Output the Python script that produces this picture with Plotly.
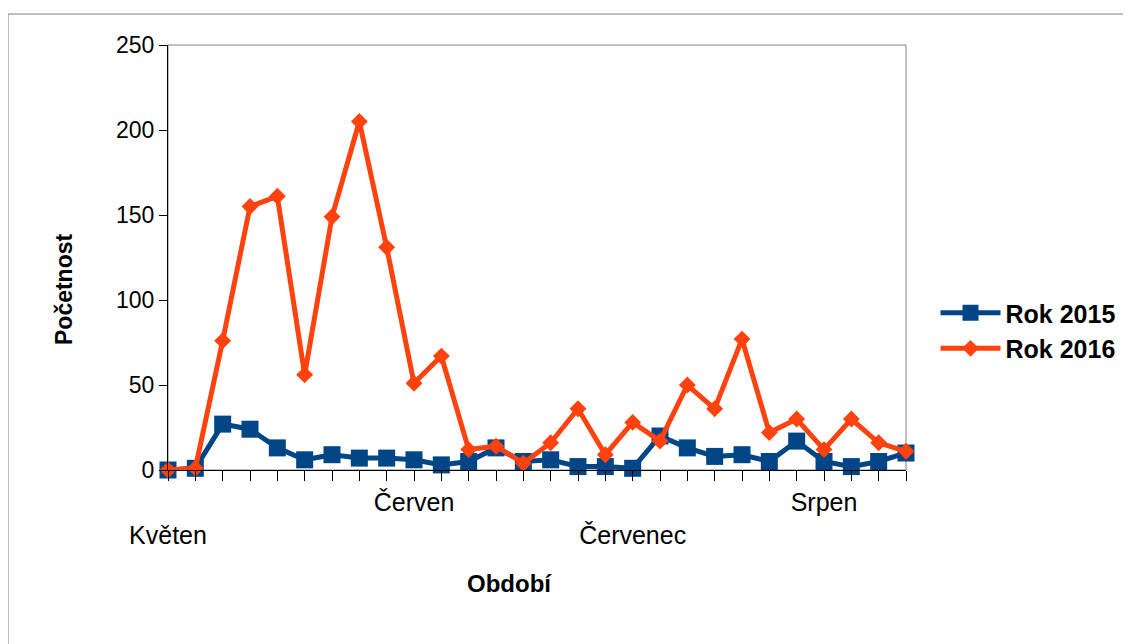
import plotly.graph_objects as go

# --- data ---
period_index = list(range(28))
month_labels = ["Květen", "", "", "", "", "", "", "", "", "Červen",
                "", "", "", "", "", "", "", "Červenec", "", "",
                "", "", "", "", "Srpen", "", "", ""]
label_row = [2, 0, 0, 0, 0, 0, 0, 0, 0, 1,
             0, 0, 0, 0, 0, 0, 0, 2, 0, 0,
             0, 0, 0, 0, 1, 0, 0, 0]
rok_2015 = [0, 1, 27, 24, 13, 6, 9, 7, 7, 6,
            3, 5, 13, 5, 6, 2, 2, 1, 20, 13,
            8, 9, 5, 17, 5, 2, 5, 10]
rok_2016 = [0, 1, 76, 155, 161, 56, 149, 205, 131, 51,
            67, 12, 14, 4, 16, 36, 9, 28, 17, 50,
            36, 77, 22, 30, 12, 30, 16, 11]
y_ticks = [0, 50, 100, 150, 200, 250]

tick_text = [("<br>" + t if r == 2 else t) for t, r in zip(month_labels, label_row)]

FONT = "Liberation Sans, Arial, sans-serif"
BLUE = "#004586"
ORANGE = "#ff420e"

fig = go.Figure()
fig.add_trace(go.Scatter(
    x=period_index, y=rok_2015, name="<b>Rok 2015</b>", mode="lines+markers",
    line=dict(color=BLUE, width=5),
    marker=dict(symbol="square", size=17, color=BLUE),
    cliponaxis=False,
))
fig.add_trace(go.Scatter(
    x=period_index, y=rok_2016, name="<b>Rok 2016</b>", mode="lines+markers",
    line=dict(color=ORANGE, width=5),
    marker=dict(symbol="diamond", size=13, color=ORANGE),
    cliponaxis=False,
))

fig.update_layout(
    width=1131, height=644,
    margin=dict(l=160, r=233, t=37, b=182),
    paper_bgcolor="white", plot_bgcolor="white",
    font=dict(family=FONT, size=23, color="black"),
    showlegend=True,
    legend=dict(x=1.04, y=0.328, xanchor="left", yanchor="middle",
                font=dict(size=25, color="black"), tracegroupgap=0,
                itemwidth=60, bgcolor="rgba(0,0,0,0)"),
    xaxis=dict(
        range=[0, 27], tickmode="array", tickvals=period_index, ticktext=tick_text,
        ticks="outside", ticklen=10, tickcolor="black", tickwidth=1,
        showline=True, linecolor="black", linewidth=1,
        showgrid=False, zeroline=False, tickangle=0,
        tickfont=dict(size=25),
    ),
    yaxis=dict(
        range=[0, 250], tickmode="array", tickvals=y_ticks,
        ticks="outside", ticklen=8, tickcolor="black", tickwidth=1,
        showline=True, linecolor="black", linewidth=1,
        showgrid=False, zeroline=False,
        tickfont=dict(size=23),
    ),
    shapes=[
        # plot-area frame (top/right gray)
        dict(type="rect", xref="paper", yref="paper", x0=0, x1=1, y0=0, y1=1,
             line=dict(color="#808080", width=1), layer="below"),
        # outer chart frame
        dict(type="rect", xref="paper", yref="paper", x0=-0.2168, x1=1.31,
             y0=-0.45, y1=1.0729, line=dict(color="#808080", width=1), layer="below"),
    ],
    annotations=[
        dict(text="<b>Období</b>", xref="paper", yref="paper", x=0.4634, y=-0.268,
             showarrow=False, xanchor="center", yanchor="middle",
             font=dict(size=24, color="black")),
        dict(text="<b>Početnost</b>", xref="paper", yref="paper", x=-0.1409, y=0.4259,
             showarrow=False, xanchor="center", yanchor="middle", textangle=-90,
             font=dict(size=23, color="black")),
    ],
)

fig.write_html("out.html")
